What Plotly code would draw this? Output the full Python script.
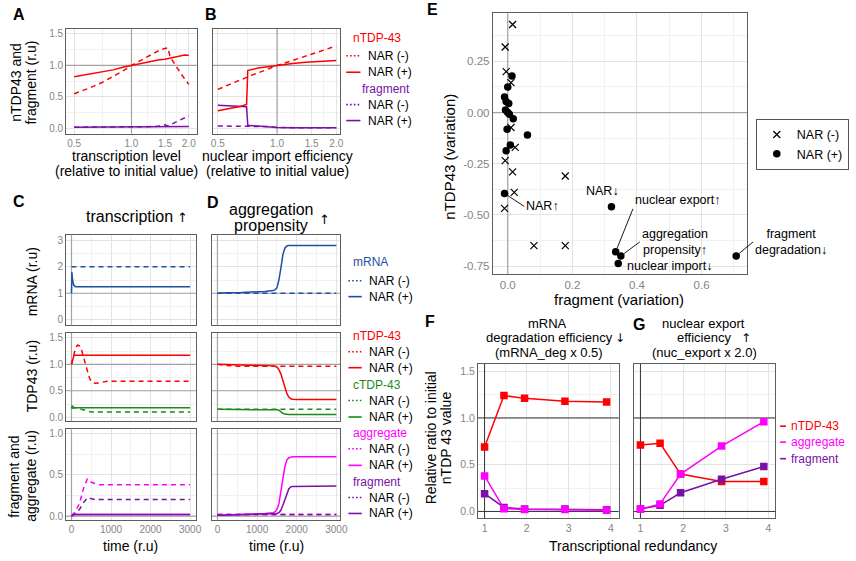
import plotly.graph_objects as go

# ======================= DATA =======================
# Panel A : steady state vs transcription level
A_level = [0.5, 0.6, 0.7, 0.8, 0.9, 1.0, 1.1, 1.2, 1.3, 1.4, 1.5, 1.55, 1.6, 1.7, 1.8, 1.9, 2.0]
A_ntdp_narp = [0.82, 0.86, 0.90, 0.93, 0.97, 1.00, 1.03, 1.05, 1.07, 1.09, 1.10, 1.11, 1.12, 1.14, 1.16, 1.165, 1.16]
A_ntdp_narm = [0.55, 0.64, 0.73, 0.82, 0.91, 1.00, 1.07, 1.13, 1.19, 1.24, 1.27, 1.28, 1.13, 1.00, 0.89, 0.79, 0.70]
A_frag_narp = [0.02, 0.02, 0.02, 0.02, 0.02, 0.02, 0.02, 0.02, 0.02, 0.02, 0.025, 0.025, 0.025, 0.025, 0.03, 0.03, 0.03]
A_frag_narm = [0.02, 0.02, 0.02, 0.02, 0.02, 0.02, 0.02, 0.03, 0.03, 0.04, 0.06, 0.04, 0.06, 0.10, 0.14, 0.17, 0.20]

# Panel B : steady state vs nuclear import efficiency
B_import = [0.5, 0.55, 0.6, 0.65, 0.7, 0.71, 0.75, 0.8, 0.9, 1.0, 1.2, 1.4, 1.6, 1.8, 2.0]
B_ntdp_narm = [0.62, 0.67, 0.72, 0.77, 0.81, 0.82, 0.85, 0.88, 0.94, 1.00, 1.08, 1.15, 1.21, 1.26, 1.31]
B_ntdp_narp = [0.28, 0.31, 0.33, 0.35, 0.38, 0.92, 0.94, 0.96, 0.98, 1.00, 1.03, 1.05, 1.06, 1.07, 1.08]
B_frag_narp = [0.37, 0.365, 0.36, 0.355, 0.345, 0.05, 0.045, 0.04, 0.03, 0.015, 0.01, 0.01, 0.01, 0.01, 0.01]
B_frag_narm = [0.04, 0.04, 0.04, 0.04, 0.04, 0.04, 0.04, 0.035, 0.03, 0.015, 0.01, 0.01, 0.01, 0.01, 0.01]
AB_xticks = [0.5, 1.0, 1.5, 2.0]
AB_xticklabels = ["0.5", "1.0", "1.5", "2.0"]
AB_yticks = [0.0, 0.5, 1.0, 1.5]
AB_yticklabels = ["0.0", "0.5", "1.0", "1.5"]

# Panel C : time course, transcription up
C_mrna_narp_t = [0, 10, 20, 40, 60, 100, 3000]
C_mrna_narp = [1.0, 1.8, 1.6, 1.4, 1.3, 1.25, 1.25]
C_mrna_narm_t = [0, 3000]
C_mrna_narm = [2.0, 2.0]
C_ntdp_narp_t = [0, 20, 40, 60, 90, 3000]
C_ntdp_narp = [1.0, 1.06, 1.12, 1.16, 1.17, 1.17]
C_ntdp_narm_t = [0, 50, 100, 150, 200, 250, 300, 350, 400, 450, 500, 550, 600, 700, 800, 900, 1000, 3000]
C_ntdp_narm = [1.0, 1.15, 1.30, 1.36, 1.35, 1.28, 1.15, 1.0, 0.85, 0.75, 0.67, 0.65, 0.64, 0.65, 0.67, 0.68, 0.68, 0.68]
C_ctdp_narp_t = [0, 20, 50, 100, 3000]
C_ctdp_narp = [0.17, 0.21, 0.19, 0.18, 0.18]
C_ctdp_narm_t = [0, 100, 200, 300, 400, 500, 3000]
C_ctdp_narm = [0.17, 0.18, 0.16, 0.14, 0.11, 0.10, 0.10]
C_fa_narm_t = [0, 100, 200, 300, 400, 450, 500, 600, 700, 3000]
C_agg_narm = [0.0, 0.06, 0.15, 0.33, 0.45, 0.44, 0.41, 0.39, 0.38, 0.38]
C_frag_narm = [0.0, 0.03, 0.08, 0.16, 0.22, 0.22, 0.21, 0.20, 0.20, 0.20]
C_fa_narp_t = [0, 50, 3000]
C_agg_narp = [0.0, 0.02, 0.02]
C_frag_narp = [0.0, 0.02, 0.02]

# Panel D : time course, aggregation propensity up
D_mrna_narp_t = [0, 200, 600, 1000, 1200, 1400, 1450, 1500, 1550, 1600, 1650, 1700, 1750, 1800, 3000]
D_mrna_narp = [1.0, 1.02, 1.03, 1.05, 1.07, 1.1, 1.13, 1.2, 1.5, 1.95, 2.45, 2.7, 2.78, 2.8, 2.8]
D_mrna_narm_t = [0, 3000]
D_mrna_narm = [1.0, 1.0]
D_tdp_t = [0, 500, 1000, 1300, 1400, 1500, 1550, 1600, 1650, 1700, 1750, 1800, 1850, 1900, 2000, 3000]
D_ntdp_narp = [1.0, 0.99, 0.98, 0.97, 0.97, 0.95, 0.90, 0.82, 0.70, 0.56, 0.45, 0.38, 0.35, 0.34, 0.335, 0.335]
D_ctdp_narp = [0.15, 0.15, 0.15, 0.15, 0.145, 0.14, 0.135, 0.10, 0.075, 0.06, 0.05, 0.05, 0.05, 0.05, 0.05, 0.05]
D_ntdp_narm_t = [0, 200, 500, 3000]
D_ntdp_narm = [1.0, 0.98, 0.965, 0.965]
D_ctdp_narm_t = [0, 3000]
D_ctdp_narm = [0.15, 0.15]
D_fa_t = [0, 500, 1000, 1200, 1400, 1450, 1500, 1550, 1600, 1650, 1700, 1750, 1800, 1850, 1900, 3000]
D_agg_narp = [0.01, 0.015, 0.02, 0.03, 0.04, 0.05, 0.08, 0.15, 0.30, 0.45, 0.60, 0.68, 0.71, 0.715, 0.72, 0.72]
D_frag_narp = [0.01, 0.015, 0.02, 0.02, 0.02, 0.025, 0.03, 0.04, 0.07, 0.13, 0.20, 0.28, 0.33, 0.355, 0.36, 0.365]
D_fa_narm_t = [0, 3000]
D_agg_narm = [0.02, 0.02]
D_frag_narm = [0.02, 0.02]
T_ticks = [0, 1000, 2000, 3000]
T_ticklabels = ["0", "1000", "2000", "3000"]

# Panel E : parameter scan
E_narm_frag = [0.015, -0.008, -0.005, 0.01, 0.01, 0.023, -0.008, 0.015, 0.02, -0.01, 0.178, 0.081, 0.178]
E_narm_ntdp = [0.43, 0.32, 0.20, 0.146, -0.073, -0.17, -0.235, -0.29, -0.39, -0.468, -0.31, -0.65, -0.65]
E_narp_frag = [0.013, 0.0, -0.01, -0.005, 0.003, -0.007, 0.0, 0.005, 0.017, -0.002, 0.061, 0.008, -0.005,
               -0.01, 0.321, 0.334, 0.35, 0.342, 0.707]
E_narp_ntdp = [0.179, 0.125, 0.076, 0.054, 0.044, 0.012, 0.0, -0.008, -0.03, -0.081, -0.109, -0.159, -0.187,
               -0.395, -0.46, -0.68, -0.70, -0.737, -0.70]
E_labels = ["NAR↑", "NAR↓", "nuclear export↑", "aggregation<br>propensity↑", "nuclear import↓", "fragment<br>degradation↓"]
E_label_idx = [13, 14, 15, 16, 17, 18]
E_xticks = [0.0, 0.2, 0.4, 0.6]
E_xticklabels = ["0.0", "0.2", "0.4", "0.6"]
E_yticks = [-0.75, -0.5, -0.25, 0.0, 0.25]
E_yticklabels = ["-0.75", "-0.50", "-0.25", "0.00", "0.25"]

# Panels F, G : transcriptional redundancy
F_x = [1.0, 1.46, 1.95, 2.91, 3.9]
F_ntdp = [0.69, 1.24, 1.21, 1.18, 1.17]
F_agg = [0.38, 0.03, 0.02, 0.02, 0.012]
F_frag = [0.19, 0.043, 0.025, 0.025, 0.018]
G_x = [1.0, 1.46, 1.94, 2.9, 3.89]
G_ntdp = [0.71, 0.73, 0.40, 0.32, 0.32]
G_agg = [0.025, 0.08, 0.40, 0.70, 0.96]
G_frag = [0.025, 0.065, 0.20, 0.345, 0.48]
FG_xticks = [1, 2, 3, 4]
FG_xticklabels = ["1", "2", "3", "4"]
FG_yticks = [0.0, 0.5, 1.0, 1.5]
FG_yticklabels = ["0.0", "0.5", "1.0", "1.5"]

# ======================= STYLE =======================
W, H = 856, 561
FONT = "Liberation Sans, Arial, sans-serif"
ARROWFONT = "DejaVu Sans, sans-serif"
RED = "#FF0000"
BLUE = "#1F4FA3"
GREEN = "#1B8A1B"
MAGENTA = "#FF00FF"
PURPLE = "#7A10A6"
GRID = "#e3e3e3"
MINOR = "#f1f1f1"
BORDER = "#5e5e5e"
REF = "#a3a3a3"
REF_FG = "#333333"
TICK = "#858585"
DASH = "5px,4px"


def fx(p):
    return p / W


def fy(p):
    return 1 - p / H


fig = go.Figure()


def aref(n):
    return ("x" if n == 1 else f"x{n}"), ("y" if n == 1 else f"y{n}")


def line(n, xs, ys, color, dashed=False, width=1.5):
    xa, ya = aref(n)
    fig.add_trace(go.Scatter(x=xs, y=ys, mode="lines", xaxis=xa, yaxis=ya, showlegend=False,
                             hoverinfo="skip",
                             line=dict(color=color, width=width, dash=DASH if dashed else "solid")))


def axis(domain, rng, tickvals, ticktext, labels=True, minor=None, typ="linear", anchor=None, size=10):
    d = dict(domain=domain, range=rng, type=typ, showline=True, mirror=True, linecolor=BORDER,
             linewidth=1.2, showgrid=True, gridcolor=GRID, gridwidth=1, zeroline=False, ticks="",
             tickfont=dict(size=size, color=TICK, family=FONT), showticklabels=labels,
             tickmode="array", tickvals=tickvals, ticktext=ticktext, anchor=anchor, fixedrange=True)
    if minor:
        d["minor"] = dict(tickmode="array", tickvals=minor, showgrid=True, gridcolor=MINOR,
                          gridwidth=0.7, ticks="")
    return d


lay = {}
# A (1) and B (2)
yA = [fy(133), fy(28)]
lay["xaxis"] = axis([fx(65), fx(197)], [-0.3425, 0.3425], AB_xticks, AB_xticklabels,
                    minor=[0.707, 1.22, 1.73], typ="log", anchor="y")
lay["yaxis"] = axis(yA, [-0.08, 1.58], AB_yticks, AB_yticklabels, minor=[0.25, 0.75, 1.25], anchor="x")
lay["xaxis2"] = axis([fx(213), fx(342)], [-0.328, 0.32], AB_xticks, AB_xticklabels,
                     minor=[0.707, 1.22, 1.73], typ="log", anchor="y2")
lay["yaxis2"] = axis(yA, [-0.08, 1.58], AB_yticks, AB_yticklabels, labels=False,
                     minor=[0.25, 0.75, 1.25], anchor="x2")

# C / D time panels
xC = [fx(65), fx(196)]
xD = [fx(212), fx(342)]
rC = [-133, 3142]
rD = [-150, 3092]
tminor = [500, 1500, 2500]
rows = [
    (3, 4, [fy(325), fy(235)], [-0.19, 3.19], [0, 1, 2, 3], ["0", "1", "2", "3"], [0.5, 1.5, 2.5], False),
    (5, 6, [fy(422), fy(333)], [-0.08, 1.594], [0, 0.5, 1.0, 1.5], ["0.0", "0.5", "1.0", "1.5"],
     [0.25, 0.75, 1.25], False),
    (7, 8, [fy(521), fy(430)], [-0.05, 1.053], [0, 0.5, 1.0], ["0.0", "0.5", "1.0"], [0.25, 0.75], True),
]
for nc, nd, ydom, yr, yt, ytt, ym, bottom in rows:
    lay[f"xaxis{nc}"] = axis(xC, rC, T_ticks, T_ticklabels, labels=bottom, minor=tminor, anchor=f"y{nc}")
    lay[f"yaxis{nc}"] = axis(ydom, yr, yt, ytt, minor=ym, anchor=f"x{nc}")
    lay[f"xaxis{nd}"] = axis(xD, rD, T_ticks, T_ticklabels, labels=bottom, minor=tminor, anchor=f"y{nd}")
    lay[f"yaxis{nd}"] = axis(ydom, yr, yt, ytt, labels=False, minor=ym, anchor=f"x{nd}")

# E (9)
lay["xaxis9"] = axis([fx(496.7), fx(754.3)], [-0.046, 0.742], E_xticks, E_xticklabels,
                     minor=[0.1, 0.3, 0.5, 0.7], anchor="y9", size=11.5)
lay["yaxis9"] = axis([fy(274.3), fy(12.3)], [-0.79, 0.485], E_yticks, E_yticklabels,
                     minor=[-0.625, -0.375, -0.125, 0.125, 0.375], anchor="x9", size=11.5)

# F (10) and G (11)
yF = [fy(519.3), fy(364)]
lay["xaxis10"] = axis([fx(481.7), fx(624)], [0.845, 4.188], FG_xticks, FG_xticklabels,
                      minor=[1.5, 2.5, 3.5], anchor="y10", size=10.5)
lay["yaxis10"] = axis(yF, [-0.075, 1.581], FG_yticks, FG_yticklabels, minor=[0.25, 0.75, 1.25],
                      anchor="x10", size=10.5)
lay["xaxis11"] = axis([fx(639.3), fx(782.5)], [0.845, 4.16], FG_xticks, FG_xticklabels,
                      minor=[1.5, 2.5, 3.5], anchor="y11", size=10.5)
lay["yaxis11"] = axis(yF, [-0.075, 1.581], FG_yticks, FG_yticklabels, labels=False,
                      minor=[0.25, 0.75, 1.25], anchor="x11", size=10.5)


# ======================= REFERENCE LINES (as traces, under the data) =======================
def refh(n, yv, color=REF, width=1.2, log=False):
    xa, ya = aref(n)
    xs = [0.01, 100] if log else [-1e5, 1e5]
    fig.add_trace(go.Scatter(x=xs, y=[yv, yv], mode="lines", xaxis=xa, yaxis=ya, showlegend=False,
                             hoverinfo="skip", line=dict(color=color, width=width)))


def refv(n, xv, color=REF, width=1.2):
    xa, ya = aref(n)
    fig.add_trace(go.Scatter(x=[xv, xv], y=[-1e5, 1e5], mode="lines", xaxis=xa, yaxis=ya, showlegend=False,
                             hoverinfo="skip", line=dict(color=color, width=width)))


for n in (1, 2):
    refv(n, 1.0)
    refh(n, 1.0, log=True)
for n in (3, 4):
    refv(n, 0)
    refh(n, 1.0)
for n in (5, 6):
    refv(n, 0)
    refh(n, 1.0)
    refh(n, 0.5)
for n in (7, 8):
    refv(n, 0)
    refh(n, 0.0)
refv(9, 0)
refh(9, 0)
for n in (10, 11):
    refv(n, 1, color=REF_FG, width=1)
    refh(n, 1.0, color=REF_FG, width=1)
    refh(n, 0.0, color=REF_FG, width=1)

# ======================= TRACES =======================
# A
line(1, A_level, A_frag_narm, PURPLE, dashed=True)
line(1, A_level, A_frag_narp, PURPLE)
line(1, A_level, A_ntdp_narm, RED, dashed=True)
line(1, A_level, A_ntdp_narp, RED)
# B
line(2, B_import, B_frag_narm, PURPLE, dashed=True)
line(2, B_import, B_frag_narp, PURPLE)
line(2, B_import, B_ntdp_narm, RED, dashed=True)
line(2, B_import, B_ntdp_narp, RED)
# C
line(3, C_mrna_narm_t, C_mrna_narm, BLUE, dashed=True)
line(3, C_mrna_narp_t, C_mrna_narp, BLUE)
line(5, C_ntdp_narm_t, C_ntdp_narm, RED, dashed=True)
line(5, C_ntdp_narp_t, C_ntdp_narp, RED)
line(5, C_ctdp_narm_t, C_ctdp_narm, GREEN, dashed=True)
line(5, C_ctdp_narp_t, C_ctdp_narp, GREEN)
line(7, C_fa_narm_t, C_agg_narm, MAGENTA, dashed=True)
line(7, C_fa_narm_t, C_frag_narm, PURPLE, dashed=True)
line(7, C_fa_narp_t, C_agg_narp, MAGENTA)
line(7, C_fa_narp_t, C_frag_narp, PURPLE)
# D
line(4, D_mrna_narm_t, D_mrna_narm, BLUE, dashed=True)
line(4, D_mrna_narp_t, D_mrna_narp, BLUE)
line(6, D_ntdp_narm_t, D_ntdp_narm, RED, dashed=True)
line(6, D_tdp_t, D_ntdp_narp, RED)
line(6, D_ctdp_narm_t, D_ctdp_narm, GREEN, dashed=True)
line(6, D_tdp_t, D_ctdp_narp, GREEN)
line(8, D_fa_t, D_agg_narp, MAGENTA)
line(8, D_fa_t, D_frag_narp, PURPLE)
line(8, D_fa_narm_t, D_agg_narm, MAGENTA, dashed=True)
line(8, D_fa_narm_t, D_frag_narm, PURPLE, dashed=True)

# E
fig.add_trace(go.Scatter(x=E_narm_frag, y=E_narm_ntdp, mode="markers", name="NAR (-)", xaxis="x9", yaxis="y9",
                         marker=dict(symbol="x-thin", size=7, color="black", line=dict(width=1.2, color="black")),
                         hoverinfo="skip"))
fig.add_trace(go.Scatter(x=E_narp_frag, y=E_narp_ntdp, mode="markers", name="NAR (+)", xaxis="x9", yaxis="y9",
                         marker=dict(symbol="circle", size=7.5, color="black"), hoverinfo="skip"))

# F, G
for n, xs, nt, ag, fr in ((10, F_x, F_ntdp, F_agg, F_frag), (11, G_x, G_ntdp, G_agg, G_frag)):
    xa, ya = aref(n)
    for ys, col in ((nt, RED), (fr, PURPLE), (ag, MAGENTA)):
        fig.add_trace(go.Scatter(x=xs, y=ys, mode="lines+markers", xaxis=xa, yaxis=ya, showlegend=False,
                                 hoverinfo="skip", line=dict(color=col, width=1.5),
                                 marker=dict(symbol="square", size=7.5, color=col)))

# ======================= TEXT =======================
ann = []
shapes = []


def text(px, py, s, size=12, color="black", bold=False, xanchor="center", angle=0, family=FONT):
    ann.append(dict(x=fx(px), y=fy(py), xref="paper", yref="paper", text=f"<b>{s}</b>" if bold else s,
                    showarrow=False, font=dict(size=size, color=color, family=family),
                    xanchor=xanchor, yanchor="middle", textangle=angle))


def key(x0, x1, py, color, dotted):
    shapes.append(dict(type="line", xref="paper", yref="paper", x0=fx(x0), x1=fx(x1), y0=fy(py), y1=fy(py),
                       line=dict(color=color, width=1.6, dash="1.6px,2.2px" if dotted else "solid")))


# panel letters
for lx, ly, L in ((16.7, 13.3, "A"), (211.7, 13.3, "B"), (16.7, 201.7, "C"), (213.3, 202.7, "D"),
                  (436, 9, "E"), (433, 322, "F"), (644.7, 325, "G")):
    text(lx, ly, L, size=16, bold=True)

# A/B axis titles
text(14.2, 82, "nTDP43 and", size=14, angle=-90)
text(29.2, 82, "fragment (r.u)", size=14, angle=-90)
text(126.3, 156, "transcription level", size=14)
text(126.3, 170.5, "(relative to initial value)", size=14)
text(278.3, 156, "nuclear import efficiency", size=14)
text(278.3, 170.5, "(relative to initial value)", size=14)

# A/B legend
text(353, 37, "nTDP-43", size=12, color=RED, xanchor="left")
key(348.3, 362.7, 55, RED, True)
text(368.3, 55, "NAR (-)", size=12, xanchor="left")
key(348.3, 362.7, 71.5, RED, False)
text(368.3, 71.5, "NAR (+)", size=12, xanchor="left")
text(362, 88, "fragment", size=12, color=PURPLE, xanchor="left")
key(348.3, 362.7, 104, PURPLE, True)
text(368.3, 104, "NAR (-)", size=12, xanchor="left")
key(348.3, 362.7, 120, PURPLE, False)
text(368.3, 120, "NAR (+)", size=12, xanchor="left")

# C/D titles
text(129.2, 216.7, "transcription", size=16)
text(183, 217.5, "↑", size=13, family=ARROWFONT)
text(272.7, 209.3, "aggregation", size=16)
text(272.5, 225, "propensity", size=16)
text(326.7, 219.5, "↑", size=13, family=ARROWFONT)

# C/D axis titles
text(30, 281.7, "mRNA (r.u)", size=14, angle=-90)
text(30, 377, "TDP43 (r.u)", size=14, angle=-90)
text(12, 476.7, "fragment and", size=14, angle=-90)
text(29.2, 476.7, "aggregate (r.u)", size=14, angle=-90)
text(130.5, 546.7, "time (r.u)", size=14)
text(277.5, 546.7, "time (r.u)", size=14)

# C/D legend
groups = [
    ("mRNA", BLUE, 261.7, 280.7, 296.7),
    ("nTDP-43", RED, 336.7, 352, 368),
    ("cTDP-43", GREEN, 385, 401, 417.5),
    ("aggregate", MAGENTA, 434, 449.3, 466),
    ("fragment", PURPLE, 482.7, 498.3, 514.3),
]
for title, col, yt, ym, yp in groups:
    text(353.5, yt, title, size=12, color=col, xanchor="left")
    key(350.5, 364, ym, col, True)
    text(369, ym, "NAR (-)", size=12, xanchor="left")
    key(350.5, 364, yp, col, False)
    text(369, yp, "NAR (+)", size=12, xanchor="left")

# E axis titles
text(452.5, 156, "nTDP43 (variation)", size=15, angle=-90)
text(624.7, 300, "fragment (variation)", size=15)

# E point labels
label_style = [
    dict(arrow=True, ax=19.7, ay=13, xanchor="left", yanchor="middle"),
    dict(arrow=False, xshift=-9, yshift=15.3, xanchor="center", yanchor="middle"),
    dict(arrow=True, ax=17.3, ay=-43, xanchor="left", yanchor="bottom"),
    dict(arrow=True, ax=19, ay=-14, xanchor="left", yanchor="middle"),
    dict(arrow=False, xshift=6.7, yshift=-3, xanchor="left", yanchor="middle"),
    dict(arrow=True, ax=17, ay=-14, xanchor="left", yanchor="middle"),
]
for lab, idx, st in zip(E_labels, E_label_idx, label_style):
    a = dict(x=E_narp_frag[idx], y=E_narp_ntdp[idx], xref="x9", yref="y9", text=lab,
             font=dict(size=12.5, color="black", family=FONT), xanchor=st["xanchor"],
             yanchor=st["yanchor"], align="center")
    if st["arrow"]:
        a.update(showarrow=True, ax=st["ax"], ay=st["ay"], arrowhead=0, arrowwidth=0.9,
                 arrowcolor="black", standoff=4)
    else:
        a.update(showarrow=False, xshift=st["xshift"], yshift=st["yshift"])
    ann.append(a)

# F/G titles
text(551.7, 323.3, "mRNA", size=13)
text(553.5, 337.7, "degradation efficiency", size=13)
text(625.5, 338.5, "↓", size=12, family=ARROWFONT)
text(553.3, 352.3, "(mRNA_deg x 0.5)", size=13)
text(710, 323.3, "nuclear export", size=13)
text(710.8, 338, "efficiency", size=13)
text(752.7, 338, "↑", size=12, family=ARROWFONT)
text(711.3, 352.5, "(nuc_export x 2.0)", size=13)

# F/G axis titles
text(435, 438, "Relative ratio to initial", size=14, angle=-90)
text(450, 438, "nTDP 43 value", size=14, angle=-90)
text(638.3, 546.7, "Transcriptional redundancy", size=14)

# F/G legend
for lab, col, yy in (("nTDP-43", RED, 426.7), ("aggregate", MAGENTA, 442.7), ("fragment", PURPLE, 459.3)):
    key(787.3, 793.3, yy, col, False)
    text(796.7, yy, lab, size=12, color=col, xanchor="left")

fig.update_layout(
    width=W, height=H, margin=dict(l=0, r=0, t=0, b=0, pad=0),
    paper_bgcolor="white", plot_bgcolor="white",
    font=dict(family=FONT, color="black"),
    showlegend=True,
    legend=dict(x=fx(762.7), y=fy(118.3), xanchor="left", yanchor="top", bordercolor="#555555",
                borderwidth=1, bgcolor="white", font=dict(size=12.5, family=FONT), tracegroupgap=0,
                itemwidth=30),
    shapes=shapes, annotations=ann, **lay,
)

fig.write_html("out.html", config={"displayModeBar": False},
               post_script="document.body.style.margin='0px';")
